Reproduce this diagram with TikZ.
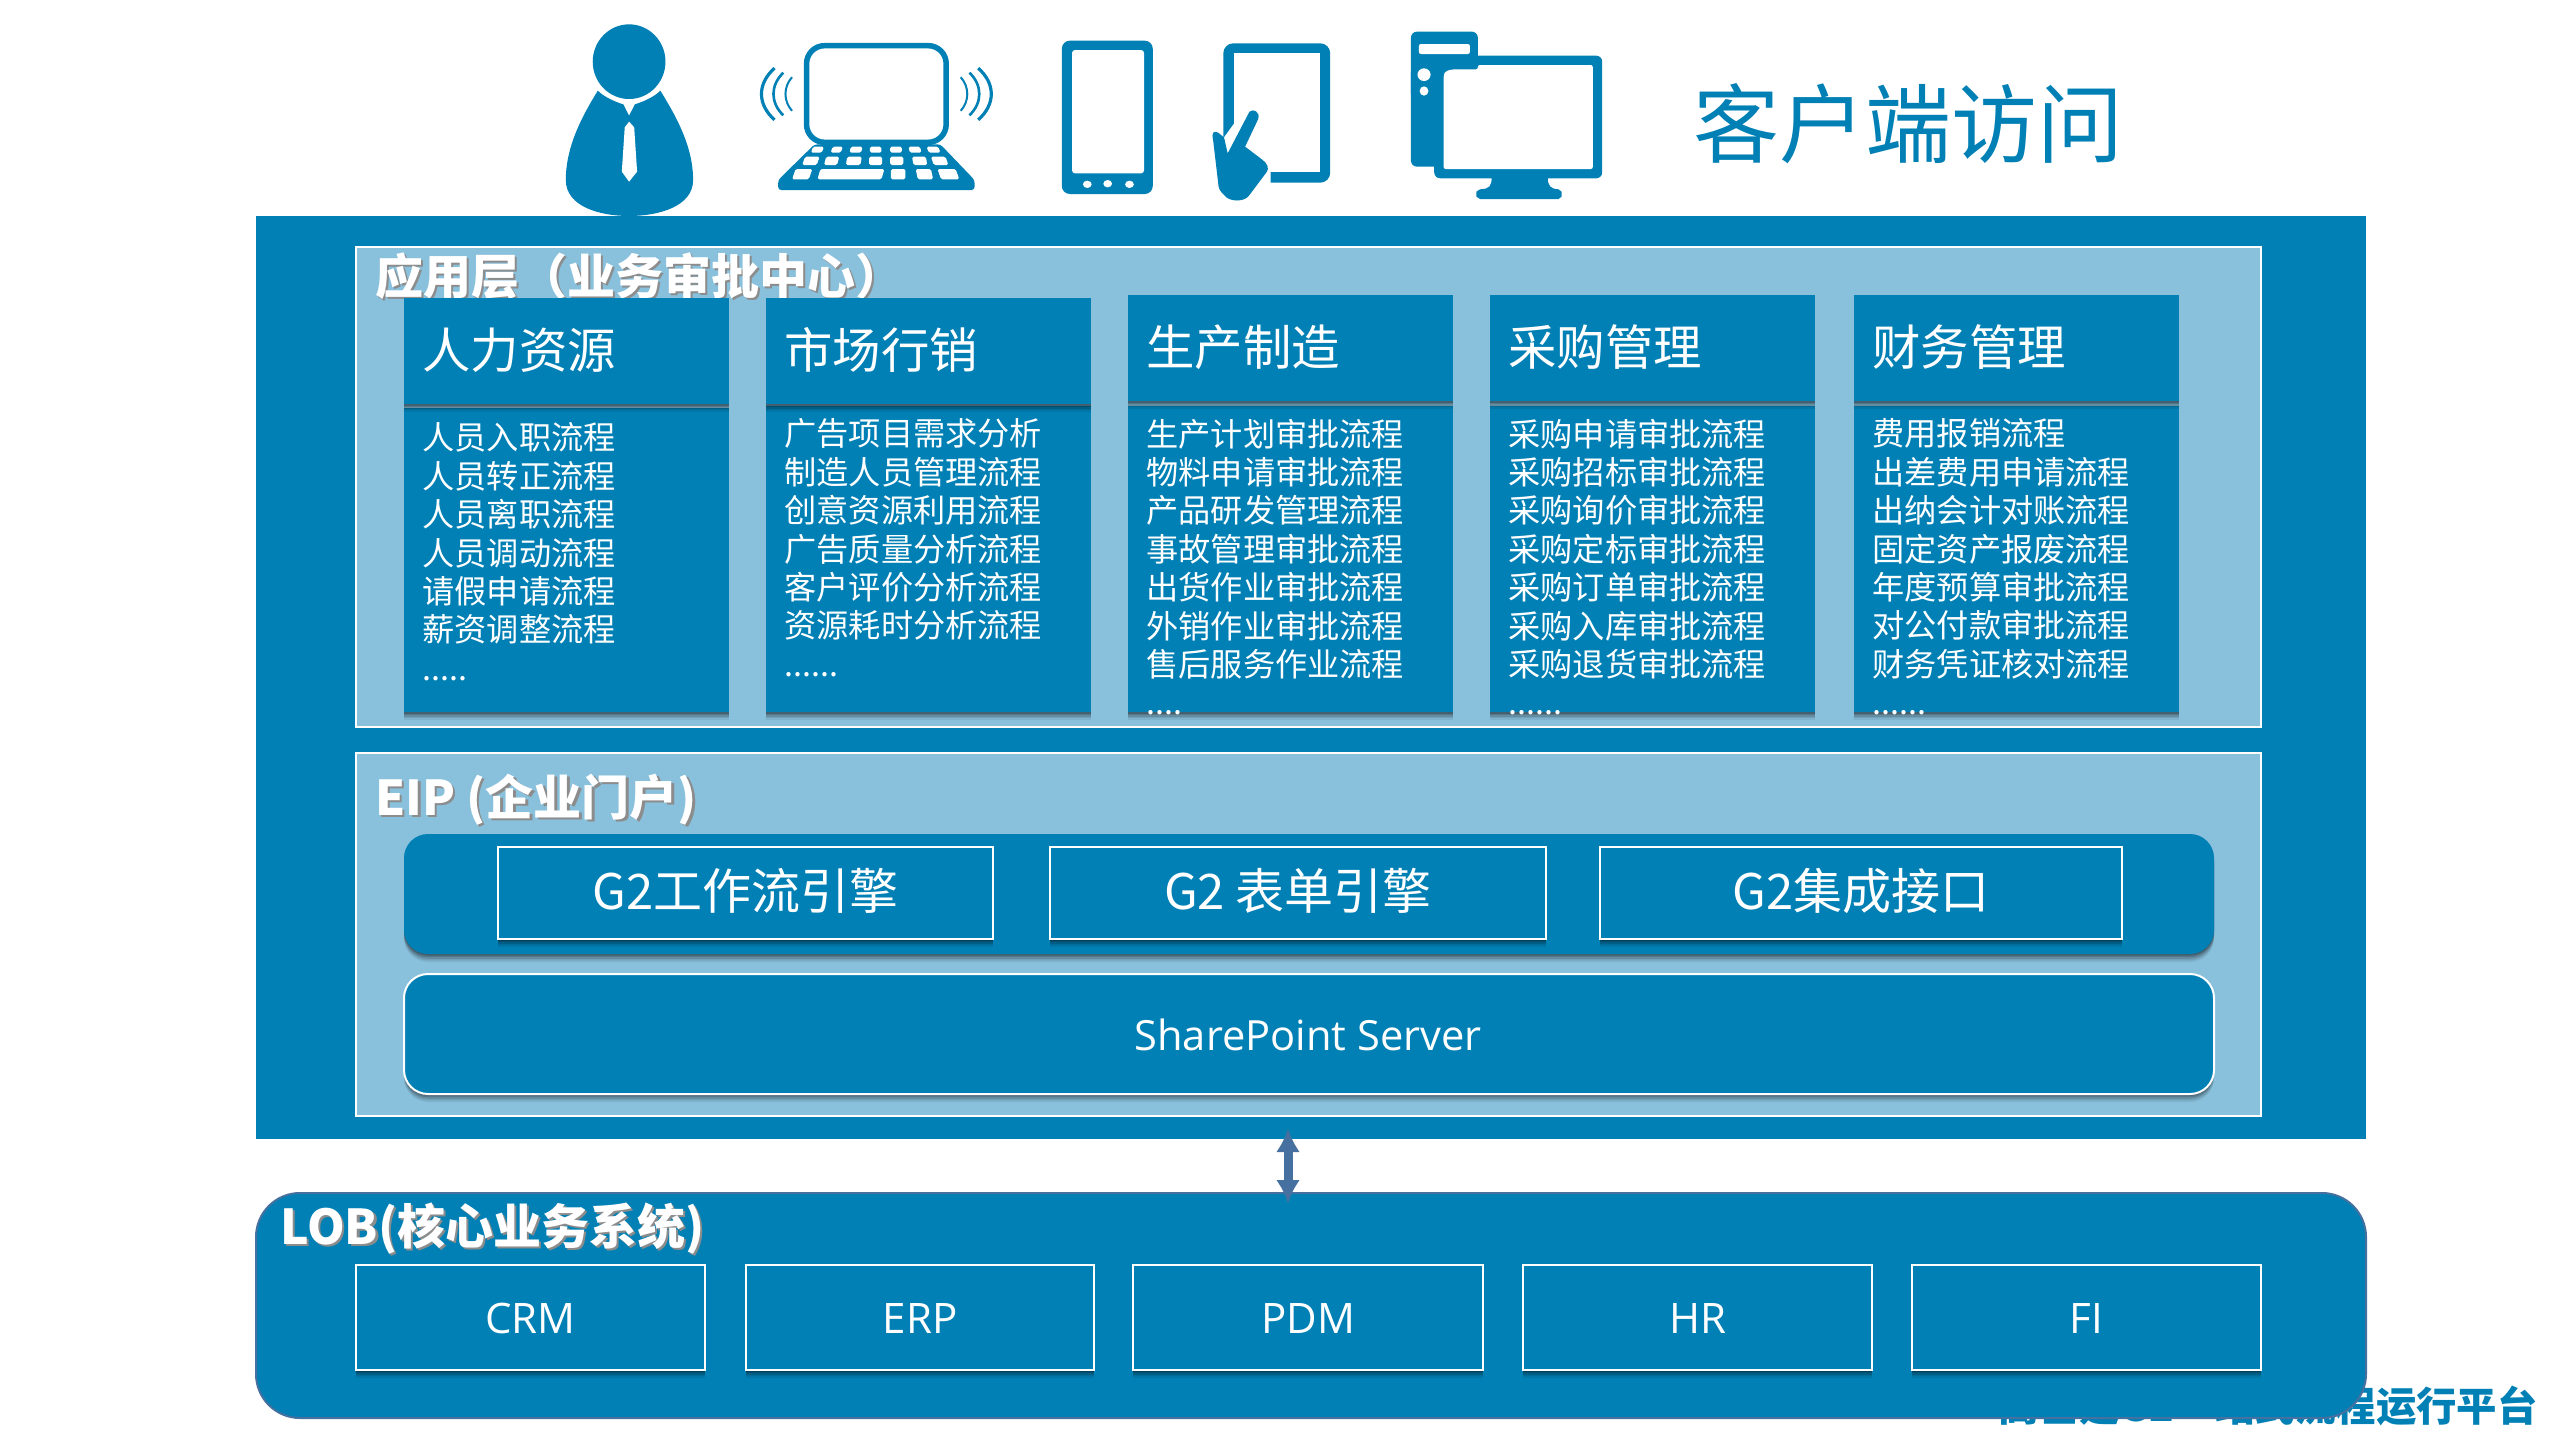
\documentclass[tikz,border=0pt]{standalone}
\usepackage{fontspec}
\setmainfont{Open Sans}
\newfontfamily\cjk{Noto Sans CJK SC}
\usetikzlibrary{shadows,arrows.meta}
\definecolor{bluem}{HTML}{0080B4}
\definecolor{lightp}{HTML}{89C0DC}
\definecolor{arrowc}{HTML}{45709F}
\newcommand{\fs}[1]{\fontsize{#1}{#1}\selectfont}
\tikzset{
 x=0.5pt,y=-0.5pt,
 panel/.style={fill=lightp,draw=white,line width=0.6pt},
 softshadow/.style={
  general shadow={shadow xshift=0pt,shadow yshift=-4pt,fill=black,opacity=0.07},
  general shadow={shadow xshift=0pt,shadow yshift=-3.2pt,fill=black,opacity=0.09},
  general shadow={shadow xshift=0pt,shadow yshift=-2.4pt,fill=black,opacity=0.12},
  general shadow={shadow xshift=0pt,shadow yshift=-1.6pt,fill=black,opacity=0.15},
  general shadow={shadow xshift=0pt,shadow yshift=-0.8pt,fill=black,opacity=0.2}},
 cardbox/.style={fill=bluem,softshadow},
 titletext/.style={inner sep=0pt,anchor=west,text=white,font=\cjk\bfseries\fs{24}},
 titleshadow/.style={inner sep=0pt,anchor=west,text=black!45,font=\cjk\bfseries\fs{24}},
 headtext/.style={inner sep=0pt,anchor=west,text=white,font=\cjk\fs{24.2}},
 bodytext/.style={inner sep=0pt,anchor=north west,text=white,align=left,font=\cjk\fontsize{16.1}{19.2}\selectfont},
 framebox/.style={fill=bluem,draw=white,line width=1pt,softshadow},
 boxlabel/.style={inner sep=0pt,text=white},
 icon/.style={fill=bluem,draw=none},
}
\begin{document}
\begin{tikzpicture}
\useasboundingbox (0,0) rectangle (2560,1440);
\fill[white] (0,0) rectangle (2560,1440);
% partially hidden caption
\node[inner sep=0pt,anchor=east,text=bluem,font=\cjk\bfseries\fs{20.2}] (caption) at (2538,1406) {高基建G2一站式流程运行平台};
% main
\fill[bluem] (256,216) rectangle (2366,1139);
\path[panel] (356,247) rectangle (2261,727);
\node[titleshadow] at (377.5,278.5) {应用层（业务审批中心）};
\node[titletext] (apptitle) at (375,276.5) {应用层（业务审批中心）};
% cards
\foreach \nm/\xx/\ya/\yb/\yc/\hd/\by/\body in {
 a/404/298/404/408/人力资源/422.5/{人员入职流程\\人员转正流程\\人员离职流程\\人员调动流程\\请假申请流程\\薪资调整流程\\.....},
 b/766/298/404/406/市场行销/418.5/{广告项目需求分析\\制造人员管理流程\\创意资源利用流程\\广告质量分析流程\\客户评价分析流程\\资源耗时分析流程\\......},
 c/1128/295/401/406/生产制造/418.5/{生产计划审批流程\\物料申请审批流程\\产品研发管理流程\\事故管理审批流程\\出货作业审批流程\\外销作业审批流程\\售后服务作业流程\\....},
 d/1490/295/401/406/采购管理/418.5/{采购申请审批流程\\采购招标审批流程\\采购询价审批流程\\采购定标审批流程\\采购订单审批流程\\采购入库审批流程\\采购退货审批流程\\......},
 e/1854/295/401/406/财务管理/418.5/{费用报销流程\\出差费用申请流程\\出纳会计对账流程\\固定资产报废流程\\年度预算审批流程\\对公付款审批流程\\财务凭证核对流程\\......}}
{
 \path[cardbox] (\xx,\yc) rectangle (\xx+325,712);
 \path[cardbox] (\xx,\ya) rectangle (\xx+325,\yb);
 \node[headtext] (head\nm) at (\xx+18,{(\ya+\yb)/2-1}) {\hd};
 \node[bodytext] (body\nm) at (\xx+18,\by) {\body};
}
% EIP
\path[panel] (356,753) rectangle (2261,1116);
\node[titleshadow] at (377.5,802) {EIP (企业门户)};
\node[titletext] (eiptitle) at (375,800) {EIP (企业门户)};
\path[fill=bluem,rounded corners=12pt,softshadow] (404,834) rectangle (2214,954);
\foreach \nm/\xa/\xb/\tx in {g1/498/993/G2工作流引擎,g2/1050/1546/G2 表单引擎,g3/1600/2122/G2集成接口}
{
 \path[framebox] (\xa,847) rectangle (\xb,939);
 \node[boxlabel,font=\cjk\fs{24.5}] (\nm) at ({(\xa+\xb)/2},891) {\tx};
}
\path[fill=bluem,draw=white,line width=1pt,rounded corners=12pt,softshadow] (404,974) rectangle (2214,1094);
\node[boxlabel,font=\fs{20.8}] (sp) at (1308,1035) {SharePoint Server};
% LOB
\path[fill=bluem,draw=arrowc,line width=1pt,rounded corners=22pt] (256,1193) rectangle (2366,1418);
\node[titleshadow] at (282.5,1231) {LOB(核心业务系统)};
\node[titletext] (lobtitle) at (280,1229) {LOB(核心业务系统)};
\foreach \nm/\xa/\xb/\tx in {crm/356/705/CRM,erp/746/1094/ERP,pdm/1133/1483/PDM,hr/1523/1872/HR,fi/1912/2261/FI}
{
 \path[framebox] (\xa,1265) rectangle (\xb,1370);
 \node[boxlabel,font=\fs{21}] (\nm) at ({(\xa+\xb)/2},1318) {\tx};
}
% arrow
\coordinate (arrtop) at (1288,1128);
\coordinate (arrbot) at (1288,1204);
\draw[arrowc,line width=4.5pt,{Latex[length=12pt,width=12pt]}-{Latex[length=12pt,width=12pt]}] (arrtop) -- (arrbot);
% title
\node[inner sep=0pt,anchor=west,text=bluem,font=\cjk\fs{43}] (clienttitle) at (1693,124) {客户端访问};
% icons, written in the coordinates of a stretched frame
\begin{scope}[shift={(520,0)},x=0.36364pt,y=-0.16667pt]
 % person
 \fill[icon] (150,185) ellipse [x radius=50,y radius=112];
 \fill[icon] (107,272) .. controls (115,290) and (130,305) .. (142,313) -- (150,347) -- (158,313) .. controls (170,305) and (185,290) .. (193,272) .. controls (215,350) and (238,440) .. (238,540) .. controls (238,620) and (190,648) .. (150,648) .. controls (110,648) and (63,620) .. (63,540) .. controls (63,440) and (85,350) .. (107,272) -- cycle;
 \fill[white] (150,365) -- (157,382) -- (161,515) -- (150,545) -- (140,515) -- (144,382) -- cycle;
 % laptop
 \draw[bluem,line width=2.75pt,rounded corners=9pt] (394,137) rectangle (586,427);
 \fill[icon,rounded corners=1.5pt] (405,433) -- (578,433) -- (625,540) -- (625,570) -- (355,570) -- (355,540) -- cycle;
 \foreach \a/\b/\ya/\yb/\s in {400/415/440/458/3,427/441/440/458/3,453/469/440/458/2,481/497/440/458/0,509/525/440/458/0,536/552/440/458/-2,562/578/440/458/-3,
  388/408/470/495/4,418/436/470/495/3,448/468/470/495/2,480/498/470/495/0,509/527/470/495/0,541/560/470/495/-2,569/589/470/495/-4,
  374/397/507/538/5,409/497/507/538/4,510/530/507/538/0,547/568/507/538/-3,579/604/507/538/-5}
 {\fill[white,rounded corners=0.8pt] (\a+\s,\ya) -- (\b+\s,\ya) -- (\b,\yb) -- (\a,\yb) -- cycle;}
 \foreach \k/\wd in {0/1.6,1/1.3,2/1.0}{
  \pgfmathsetmacro\dy{155-\k*27}
  \pgfmathsetmacro\xl{350+\k*12}
  \pgfmathsetmacro\xr{630-\k*12}
  \draw[bluem,line width=\wd pt] (\xl,282-\dy/2) .. controls (\xl-24+\k*6,282-\dy/5) and (\xl-24+\k*6,282+\dy/5) .. (\xl,282+\dy/2);
  \draw[bluem,line width=\wd pt] (\xr,282-\dy/2) .. controls (\xr+24-\k*6,282-\dy/5) and (\xr+24-\k*6,282+\dy/5) .. (\xr,282+\dy/2);
 }
 % phone
 \fill[icon,rounded corners=4pt] (745,122) rectangle (870,582);
 \fill[white,rounded corners=1.5pt] (759,150) rectangle (858,520);
 \foreach \cx/\cy in {780/553,808/551,838/553}{\fill[white] (\cx,\cy) ellipse [x radius=6,y radius=11];}
 % tablet and hand
 \fill[icon,rounded corners=5pt] (967,130) rectangle (1114,548);
 \fill[white] (982,160) rectangle (1100,516);
 \fill[white] (967,415) -- (982,370) -- (982,516) -- (1032,516) -- (1032,550) -- (940,560) -- (940,415) -- cycle;
 \fill[icon] (1003,335) .. controls (1008,325) and (1018,335) .. (1015,357) -- (997,440) -- (1020,478) .. controls (1028,490) and (1030,505) .. (1027,515) -- (1003,585) .. controls (997,607) and (975,607) .. (968,585) .. controls (963,575) and (960,565) .. (960,550) -- (953,420) .. controls (950,395) and (955,392) .. (960,398) -- (968,412) -- (973,460) -- cycle;
 % computer
 \fill[icon,rounded corners=3pt] (1257,167) rectangle (1488,535);
 \fill[icon] (1336,530) .. controls (1336,560) and (1333,566) .. (1320,568) -- (1315,575) -- (1315,590) -- (1320,597) -- (1428,597) -- (1432,590) -- (1432,575) -- (1428,568) .. controls (1417,566) and (1413,560) .. (1413,530) -- cycle;
 \fill[icon,rounded corners=3pt] (1225,95) rectangle (1317,300);
 \fill[icon,rounded corners=3pt] (1225,200) rectangle (1270,500);
 \fill[white,rounded corners=1pt] (1270,225) -- (1272,214) -- (1282,208) -- (1317,208) -- (1317,195) -- (1475,195) -- (1475,507) -- (1270,507) -- cycle;
 \fill[white,rounded corners=1pt] (1236,132) rectangle (1306,162);
 \fill[white] (1243,224) ellipse [x radius=9,y radius=19];
 \fill[white] (1243,273) ellipse [x radius=6,y radius=14];
\end{scope}
\end{tikzpicture}
\end{document}
